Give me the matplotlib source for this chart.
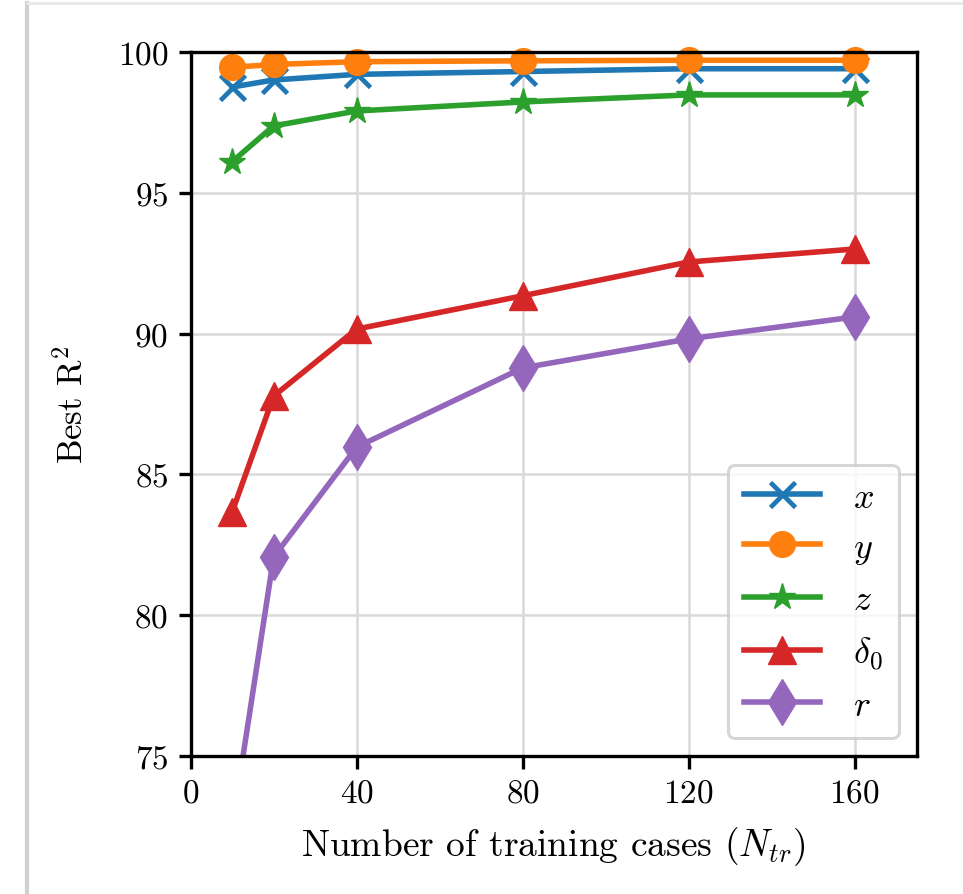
import numpy as np
import matplotlib
matplotlib.use('Agg')
import matplotlib.pyplot as plt
from matplotlib.lines import Line2D

plt.rcParams['font.family'] = 'serif'
plt.rcParams['font.serif'] = ['cmr10']
plt.rcParams['mathtext.fontset'] = 'cm'
plt.rcParams['axes.formatter.use_mathtext'] = True
plt.rcParams['font.size'] = 22

# 训练样本数
n_train = [10, 20, 40, 80, 120, 160]
# 各输出的最佳 R2
r2_x = [98.75, 99.0, 99.2, 99.3, 99.4, 99.4]
r2_y = [99.45, 99.55, 99.65, 99.68, 99.7, 99.7]
r2_z = [96.1, 97.37, 97.9, 98.22, 98.47, 98.47]
r2_delta = [83.67, 87.78, 90.16, 91.34, 92.54, 93.0]
r2_r = [72.5, 82.07, 85.97, 88.78, 89.81, 90.59]

x_ticks = [0, 40, 80, 120, 160]
y_ticks = [75, 80, 85, 90, 95, 100]

fig = plt.figure(figsize=(9.63, 8.95), dpi=100)
ax = fig.add_axes([0.198, 0.154, 0.754, 0.787])

lw = 4
ax.plot(n_train, r2_x, marker='x', color='#1f77b4', lw=lw, ms=18, mew=3.4, label=r'$x$', clip_on=False)
ax.plot(n_train, r2_y, marker='o', color='#ff7f0e', lw=lw, ms=18.5, label=r'$y$', clip_on=False)
ax.plot(n_train, r2_z, marker='*', color='#2ca02c', lw=lw, ms=20, label=r'$z$')
ax.plot(n_train, r2_delta, marker='^', color='#d62728', lw=lw, ms=20, label=r'$\delta_0$')
ax.plot(n_train, r2_r, marker='d', color='#9467bd', lw=lw, ms=23, label=r'$r$')

ax.set_xlim(0, 175)
ax.set_ylim(75, 100)
ax.set_xticks(x_ticks)
ax.set_yticks(y_ticks)
ax.grid(True, color='#d9d9d9', lw=1.8)
ax.set_axisbelow(True)
for s in ax.spines.values():
    s.set_linewidth(2.4)
ax.tick_params(width=2.4, length=9, labelsize=24, pad=7)

ax.set_xlabel(r'Number of training cases ($N_{tr}$)', fontsize=27, labelpad=12)
ax.set_ylabel(r'Best R$^2$', fontsize=25, labelpad=20)

leg = ax.legend(loc='lower right', fontsize=26, handlelength=2.1, borderpad=0.45,
                labelspacing=0.5, handletextpad=0.9, framealpha=0.8, edgecolor='#cccccc',
                borderaxespad=0.5)
leg.get_frame().set_linewidth(2.2)

# 截图边框
fig.add_artist(Line2D([0.028, 0.028], [0, 0.995], color='#d0d0d0', lw=3, transform=fig.transFigure))
fig.add_artist(Line2D([0.028, 1], [0.995, 0.995], color='#e8e8e8', lw=2, transform=fig.transFigure))

plt.savefig('out.png', dpi=100)
